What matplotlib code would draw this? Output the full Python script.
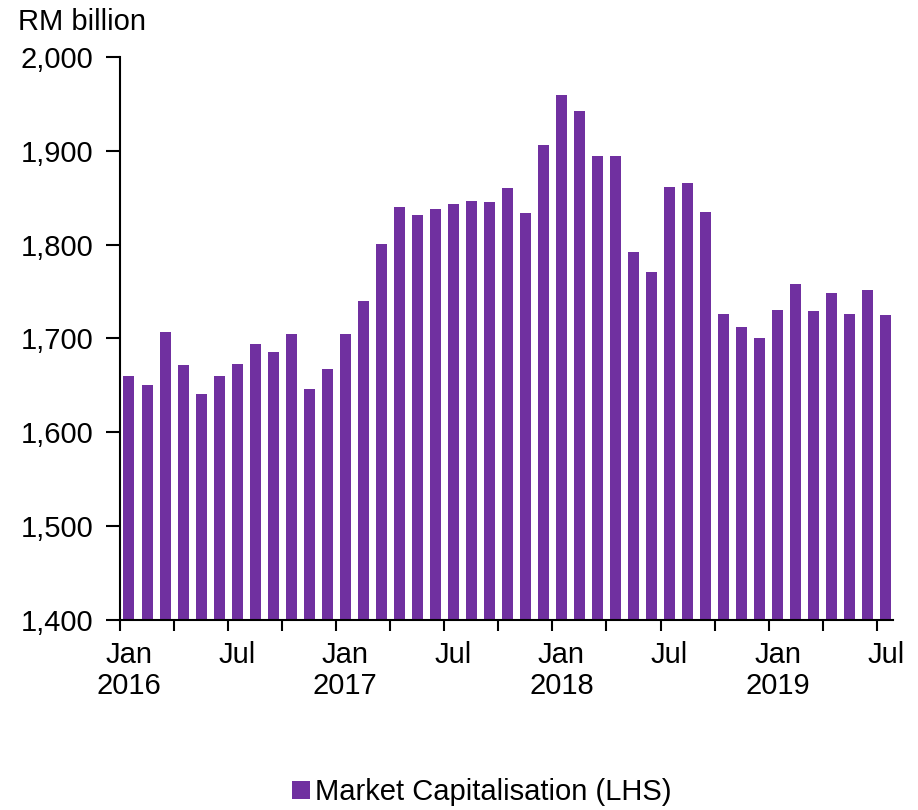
import matplotlib.pyplot as plt
import numpy as np
from matplotlib.ticker import FuncFormatter

plt.rcParams['font.family'] = ['Liberation Sans', 'DejaVu Sans']

# monthly market capitalisation, Jan 2016 .. Jul 2019 (RM billion)
months = [f'{m} {y}' for y in range(2016, 2020)
          for m in ['Jan', 'Feb', 'Mar', 'Apr', 'May', 'Jun',
                    'Jul', 'Aug', 'Sep', 'Oct', 'Nov', 'Dec']][:43]
market_cap = [1660, 1650, 1707, 1672, 1641, 1660, 1673, 1694, 1686, 1705,
              1646, 1667, 1705, 1740, 1801, 1840, 1832, 1838, 1843, 1847,
              1845, 1860, 1834, 1906, 1960, 1942, 1895, 1894, 1792, 1771,
              1861, 1866, 1835, 1726, 1712, 1700, 1730, 1758, 1729, 1748,
              1726, 1752, 1725]
tick_labels = ['Jan\n2016', 'Jul', 'Jan\n2017', 'Jul', 'Jan\n2018', 'Jul',
               'Jan\n2019', 'Jul']
y_ticks = [1400, 1500, 1600, 1700, 1800, 1900, 2000]

PURPLE = '#7030A0'
FS = 21

fig = plt.figure(figsize=(9.18, 8.10), dpi=100)
ax = fig.add_axes([0.1307, 0.2346, 0.842, 0.695])

x = np.arange(len(market_cap))
ax.bar(x, np.array(market_cap) - 1400, bottom=1400, width=0.61,
       color=PURPLE, label='Market Capitalisation (LHS)')

ax.set_xlim(-0.5, 42.4)
ax.set_ylim(1400, 2000)
ax.set_yticks(y_ticks)
ax.yaxis.set_major_formatter(FuncFormatter(lambda v, p: f'{v:,.0f}'))

# labels sit under Jan/Jul bars, tick marks between quarters
ax.set_xticks(np.arange(0, 43, 6), tick_labels)
ax.set_xticks(np.arange(-0.5, 42, 3), minor=True)
ax.tick_params(axis='x', which='major', length=0, pad=15, labelsize=FS)
ax.tick_params(axis='x', which='minor', length=8, width=1.5, direction='out')
ax.tick_params(axis='y', length=10, width=1.5, pad=9, labelsize=FS)
for lab in ax.get_xticklabels():
    lab.set_linespacing(1.15)

for side in ['top', 'right']:
    ax.spines[side].set_visible(False)
for side in ['left', 'bottom']:
    ax.spines[side].set_linewidth(1.5)

fig.text(0.02, 0.99, 'RM billion', fontsize=FS, va='top', ha='left')

fig.legend(loc='center', bbox_to_anchor=(0.525, 0.022), frameon=False,
           fontsize=FS, handlelength=0.6, handleheight=0.6, handletextpad=0.2)

fig.savefig('out.png', dpi=100)
